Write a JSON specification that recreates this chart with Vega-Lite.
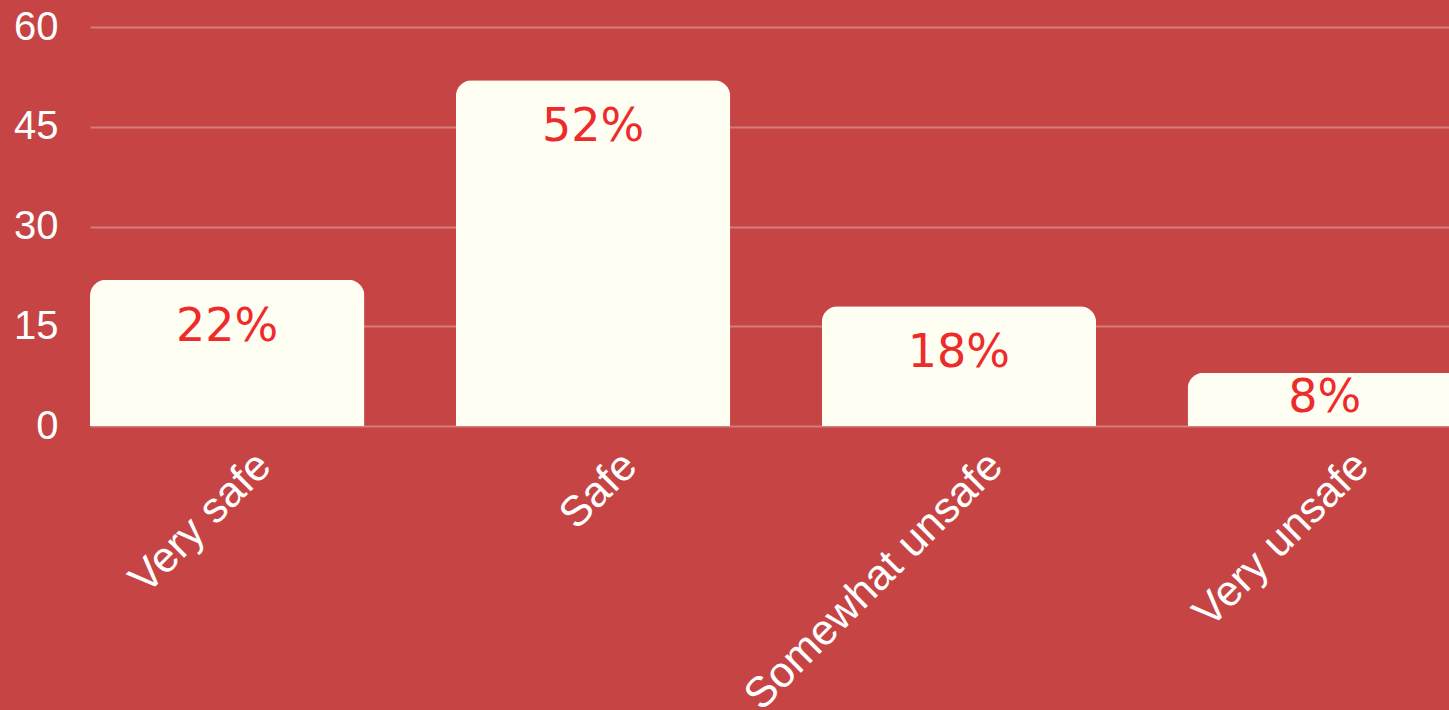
{
  "$schema": "https://vega.github.io/schema/vega-lite/v6.json",
  "autosize": "none",
  "padding": {"left": 90, "top": 27, "right": 0, "bottom": 284},
  "width": 1372,
  "height": 399,
  "background": "#C64444",
  "config": {
    "view": {"stroke": null},
    "font": "Liberation Sans"
  },
  "data": {
    "values": [
      {"category": "Very safe", "value": 22, "label": "22%"},
      {"category": "Safe", "value": 52, "label": "52%"},
      {"category": "Somewhat unsafe", "value": 18, "label": "18%"},
      {"category": "Very unsafe", "value": 8, "label": "8%"}
    ]
  },
  "encoding": {
    "x": {
      "field": "category",
      "type": "nominal",
      "sort": null,
      "scale": {"paddingInner": 0.25, "paddingOuter": 0},
      "axis": {
        "title": null,
        "domain": false,
        "ticks": false,
        "labelAngle": -45,
        "labelFont": "Liberation Sans",
        "labelFontSize": 43,
        "labelColor": "#FFFFFF",
        "labelPadding": 18,
        "labelOffset": 22,
        "labelLimit": 0,
        "labelOverlap": false
      }
    },
    "y": {
      "field": "value",
      "type": "quantitative",
      "scale": {"domain": [0, 60]},
      "axis": {
        "title": null,
        "values": [0, 15, 30, 45, 60],
        "domain": false,
        "ticks": false,
        "grid": true,
        "gridColor": "#FFFFFF",
        "gridOpacity": 0.3,
        "gridWidth": 2,
        "labelFont": "Liberation Sans",
        "labelFontSize": 40,
        "labelColor": "#FFFFFF",
        "labelPadding": 32
      }
    }
  },
  "layer": [
    {
      "mark": {"type": "bar", "color": "#FFFEF2", "cornerRadiusTopLeft": 16, "cornerRadiusTopRight": 16}
    },
    {
      "transform": [{"filter": "datum.value >= 10"}],
      "mark": {"type": "text", "font": "DejaVu Sans", "fontSize": 46, "color": "#EE2B2B", "baseline": "middle", "dy": 47},
      "encoding": {"text": {"field": "label"}}
    },
    {
      "transform": [{"filter": "datum.value < 10"}],
      "mark": {"type": "text", "font": "DejaVu Sans", "fontSize": 46, "color": "#EE2B2B", "baseline": "middle", "dy": 25},
      "encoding": {"text": {"field": "label"}}
    }
  ]
}
